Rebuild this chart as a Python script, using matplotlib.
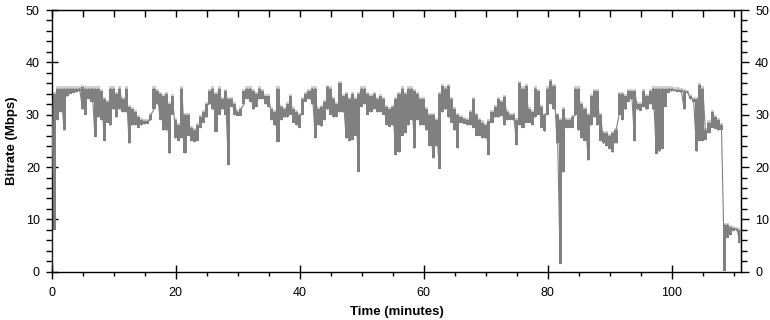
import matplotlib
matplotlib.use("Agg")
import matplotlib.pyplot as plt
import numpy as np
from matplotlib.ticker import MultipleLocator

# bitrate samples every 0.5 minutes: upper and lower envelope of each interval (Mbps)
SAMPLE_STEP = 0.5
upper = [
    33, 34, 35, 35, 35, 35, 35, 35, 35, 35,
    35.2, 35, 35, 35, 35, 35, 34.5, 33, 32.5, 35,
    35, 34, 35, 33, 35, 31.5, 31, 30.5, 29.5, 29,
    28.8, 28.8, 30, 35, 34.5, 34, 33.5, 34, 32, 33.5,
    29, 28, 35, 30, 30, 27.5, 27, 28, 29.5, 30.5,
    32, 34.5, 35, 34, 35, 33, 34.5, 33, 33, 32,
    30.5, 31, 34.5, 35, 35, 34.5, 34, 35, 34.5, 33.5,
    33.5, 31, 30.5, 35, 31.5, 31, 32, 33.5, 31, 30.5,
    30, 33, 34, 34.5, 35, 35, 31, 31.5, 32.5, 35.3,
    35, 33, 32, 36, 33.5, 34, 33, 34, 33, 34,
    35, 35, 34, 33.5, 34, 33, 33.5, 33, 31.5, 31,
    31.5, 33, 34, 35, 34, 35, 35, 34.5, 34, 33,
    33, 31, 30, 30, 29, 34, 35.5, 35, 35.5, 33,
    31, 30, 29.5, 29.2, 29, 30.5, 33, 30, 29, 28.5,
    28, 28.7, 30.5, 31.5, 33, 32.5, 33.4, 30.5, 30, 30,
    29, 36, 35, 35.5, 31, 30.5, 35, 34.5, 31.5, 30,
    35, 36.5, 35.5, 30, 29, 31, 29, 29, 29.5, 35,
    35, 32, 31, 30, 33.5, 34.5, 34.5, 30, 26.5, 26.5,
    26, 26.5, 27, 34, 34, 33.5, 34.5, 34.5, 34.5, 32,
    32, 34.5, 33.5, 34.5, 35, 35, 35, 35, 35, 35,
    35, 34.8, 34.8, 34.7, 34.5, 34.4, 33.5, 33, 33, 35.7,
    35, 27, 28.5, 30.5, 29.5, 29, 28, 9, 9, 8.5,
    8.3, 8.2, 8,
]
lower = [
    0.5, 8, 29, 30.5, 27, 33.5, 34, 34.2, 34.3, 34.5,
    31, 30, 33, 32.5, 25.8, 29.5, 29, 25, 28.5, 28,
    31, 29.5, 31, 30.5, 30.5, 24.5, 28, 28, 27.5, 28,
    28.2, 28.3, 29, 31, 32, 29, 27, 27, 22.6, 30,
    25.5, 25, 25.5, 22.6, 26, 25, 24.8, 25, 27.5, 28.5,
    29.5, 32, 31, 26.7, 30, 31, 30, 20.4, 31.5, 30,
    29.8, 29.8, 32, 33, 32.5, 31, 31.5, 33, 33, 32,
    31.5, 29, 28, 24.8, 29, 29.5, 29.5, 30, 28.5, 28,
    27.5, 30, 32.5, 33, 32, 25.5, 28, 27.8, 29, 31,
    30, 29.5, 29.6, 30.5, 30.5, 25.5, 25, 25.2, 26, 19.1,
    31.5, 32, 30, 30.5, 31, 30.5, 30.5, 30, 28, 27.7,
    28, 22.3, 22.8, 26, 26.5, 28, 29, 23.6, 29, 28,
    28, 27, 24, 21.7, 24, 19.7, 30.5, 31, 29.5, 28.5,
    27, 23.6, 28.5, 28.3, 28, 28, 27.5, 26, 26, 25.5,
    25.5, 22.3, 28.5, 29.5, 29.5, 29.8, 28, 29, 29, 29,
    24.2, 28, 27.5, 28.5, 28.5, 28, 29.5, 30, 27.5, 26.8,
    30, 32, 31, 24.5, 1.5, 19, 27.5, 27.5, 27.5, 30,
    27, 25.5, 25, 21.3, 28, 29.5, 28, 25, 24.5, 24,
    23.5, 22.8, 24.5, 30, 29, 31, 32.5, 33, 25, 31,
    30.8, 31.5, 31, 32, 31, 22.5, 23, 23.5, 31.5, 34.2,
    34.5, 34.5, 34.4, 34.3, 31, 34.2, 33, 32.5, 23, 25,
    25, 25.2, 26.5, 27.5, 27.3, 27, 27, 0.2, 6.5, 7,
    7.8, 7.9, 5.5,
]

y_ticks = [0, 10, 20, 30, 40, 50]
x_ticks = [0, 20, 40, 60, 80, 100]


def main() -> None:
    plt.rcParams["font.family"] = ["Liberation Sans", "DejaVu Sans"]
    plt.rcParams["font.size"] = 9

    time_min = np.arange(len(upper)) * SAMPLE_STEP
    lo = np.array(lower)
    hi = np.array(upper)
    # zigzag lower -> upper per sample keeps the trace continuous
    t_zig = np.repeat(time_min, 2)
    y_zig = np.column_stack([lo, hi]).ravel()

    fig = plt.figure(figsize=(7.7, 3.2), dpi=100)
    ax = fig.add_axes([0.0671, 0.1509, 0.8956, 0.8178])

    # light grey peak halo, then the dark trace on top
    ax.fill_between(time_min, lo, hi + 0.4, step="mid", color="#d0d0d0", lw=0, zorder=1)
    ax.fill_between(time_min, lo, hi, step="mid", color="#808080", lw=0, zorder=2)
    ax.plot(t_zig, y_zig, color="#808080", lw=0.8, zorder=3)

    ax.set_xlim(0, 111.2)
    ax.set_ylim(0, 50)
    ax.set_xticks(x_ticks)
    ax.set_yticks(y_ticks)
    ax.xaxis.set_minor_locator(MultipleLocator(5))
    ax.yaxis.set_minor_locator(MultipleLocator(2))

    ax.tick_params(axis="y", which="major", direction="inout", length=9, width=1, pad=4)
    ax.tick_params(axis="y", which="minor", direction="out", length=4, width=1)
    ax.tick_params(axis="x", which="major", direction="inout", length=10, width=1, pad=6)
    ax.tick_params(axis="x", which="minor", direction="out", length=3, width=1)

    secy = ax.secondary_yaxis("right")
    secy.set_yticks(y_ticks)
    secy.yaxis.set_minor_locator(MultipleLocator(2))
    secy.tick_params(which="major", direction="out", length=6, width=1, pad=4)
    secy.tick_params(which="minor", direction="out", length=4, width=1)

    secx = ax.secondary_xaxis("top")
    secx.xaxis.set_major_locator(MultipleLocator(5))
    secx.tick_params(which="major", direction="in", length=5, width=1, labeltop=False)

    for sp in ax.spines.values():
        sp.set_linewidth(1)

    ax.set_xlabel("Time (minutes)", fontweight="bold", fontsize=9.5, labelpad=5)
    ax.set_ylabel("Bitrate (Mbps)", fontweight="bold", fontsize=9.5, labelpad=6)

    fig.savefig("out.png", dpi=100)


if __name__ == "__main__":
    main()
